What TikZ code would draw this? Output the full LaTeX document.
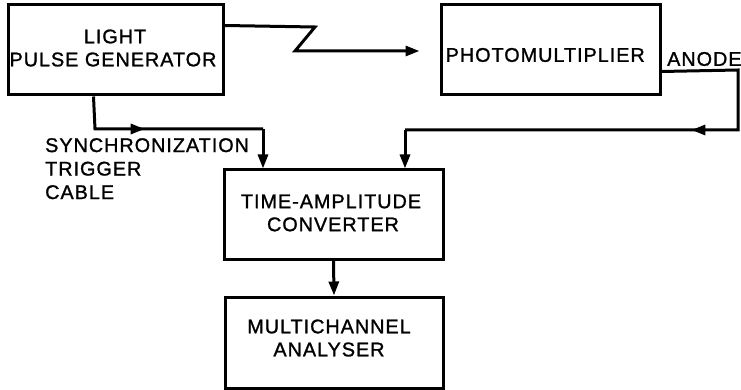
\documentclass[tikz,border=0pt]{standalone}
\usepackage{fontspec}
\setmainfont[LetterSpace=5,FakeBold=1.2]{Liberation Sans}
\usetikzlibrary{arrows.meta,decorations.markings,calc}
\begin{document}
\begin{tikzpicture}[x=1pt,y=-1pt,
  blk/.style={draw,line width=3pt,inner sep=0pt},
  lbl/.style={font=\fontsize{19.8}{23}\selectfont,align=center,inner sep=0pt},
  wire/.style={line width=3pt,line join=miter},
  tip/.style={-{Triangle[length=14pt,width=10pt]}},
  midarrow/.style={postaction={decorate},decoration={markings,mark=at position #1 with {\arrow{Triangle[length=14pt,width=10pt]}}}}
]
\useasboundingbox (0,0) rectangle (741,390);
\node[blk,minimum width=215pt,minimum height=90pt] (lpg) at (115.5,50) {};
\node[blk,minimum width=219pt,minimum height=90pt] (pm) at (550.5,50) {};
\node[blk,minimum width=219pt,minimum height=89pt] (tac) at (333.5,214.5) {};
\node[blk,minimum width=218pt,minimum height=91pt] (mca) at (334,342.5) {};
\node[lbl] (lpgt) at (113,48) {\hspace*{4pt}LIGHT\\PULSE GENERATOR};
\node[lbl,anchor=west] (pmt) at ($(pm.west)+(6,5)$) {PHOTOMULTIPLIER};
\node[lbl] (tact) at (331,213) {TIME-AMPLITUDE\\\hspace*{4pt}CONVERTER};
\node[lbl] (mcat) at (329,338) {MULTICHANNEL\\ANALYSER};
\node[lbl,anchor=west] (anode) at (667,59) {ANODE};
\node[lbl,anchor=north west,align=left,font=\fontsize{19.8}{23.5}\selectfont] (sync) at (45,138) {SYNCHRONIZATION\\TRIGGER\\CABLE};
% zigzag light path
\coordinate (z0) at ($(lpg.north east)+(0,22)$);
\coordinate (z1) at (315,27);
\coordinate (z2) at (295,51);
\coordinate (z3) at ($(pm.west)+(-20,1)$);
\draw[wire,tip] (z0) -- (z1) -- (z2) -- (z3);
% sync trigger cable
\coordinate (s0) at ($(lpg.south west)+(87,0)$);
\coordinate (s1) at (95,129);
\coordinate (s2) at (263,129);
\draw[wire,midarrow=0.41] (s0) -- (s1) -- (s2);
\draw[wire,tip] (s2) -- (s2 |- tac.north);
% anode
\coordinate (a0) at ($(pm.south east)+(0,-25)$);
\coordinate (a1) at (738,70);
\coordinate (a2) at (738,130);
\coordinate (a3) at (405,130);
\draw[wire,midarrow=0.39] (a0) -- (a1) -- (a2) -- (a3);
\draw[wire,tip] (a3) -- (a3 |- tac.north);
% TAC to MCA
\draw[wire,tip] (tac.south) -- (mca.north);
\end{tikzpicture}
\end{document}
